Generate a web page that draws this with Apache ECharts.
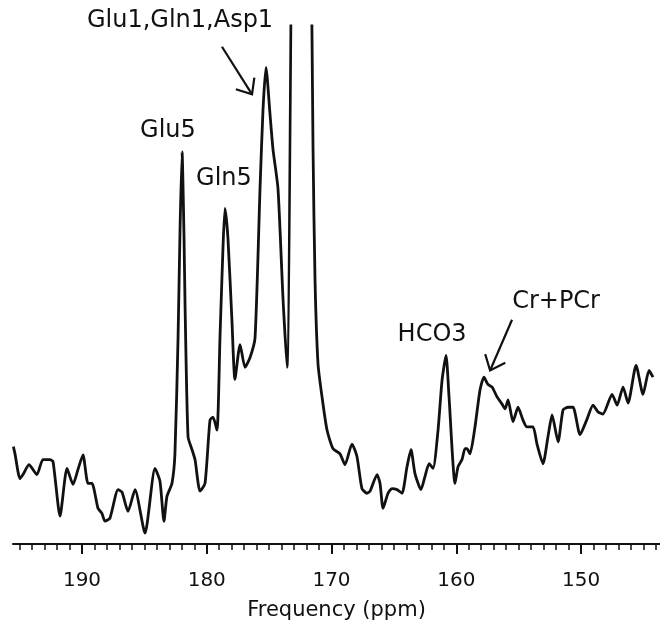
<!DOCTYPE html>
<html>
<head>
<meta charset="utf-8">
<style>
  html, body { margin: 0; padding: 0; background: #fff; }
  #chart { width: 660px; height: 626px; }
</style>
<script src="https://cdn.jsdelivr.net/npm/echarts@6/dist/echarts.min.js"></script>
</head>
<body>
<div id="chart"></div>
<script>
// chemical shift (ppm) and intensity (arbitrary units)
var ppm = [195.5, 195.37, 194.97, 194.73, 194.25, 193.61, 193.13, 192.57, 192.32, 191.76,
  191.2, 190.72, 190.32, 189.92, 189.52, 189.2, 188.72, 188.4, 188.16, 187.76,
  187.11, 186.79, 186.31, 185.75, 184.95, 184.15, 183.75, 183.43, 183.19, 182.79,
  182.55, 182.3, 182.14, 181.98, 181.82, 181.74, 181.5, 181.18, 180.94, 180.54,
  180.14, 179.74, 179.5, 179.18, 178.94, 178.7, 178.54, 178.3, 177.98, 177.74,
  177.33, 176.93, 176.53, 176.13, 175.73, 175.49, 175.25, 174.93, 174.69, 174.29,
  173.89, 173.57, 172.53, 171.48, 171.32, 171.08, 170.76, 170.36, 169.88, 169.32,
  168.92, 168.36, 167.96, 167.56, 167.15, 166.91, 166.35, 166.11, 165.87, 165.47,
  165.15, 164.75, 164.35, 163.95, 163.63, 163.31, 162.83, 162.51, 162.18, 161.86,
  161.46, 161.14, 160.82, 160.58, 160.1, 159.86, 159.54, 159.3, 159.14, 158.9,
  158.5, 158.1, 157.78, 157.46, 157.13, 156.73, 156.33, 156.09, 155.85, 155.45,
  155.05, 154.65, 154.33, 153.85, 153.53, 153.05, 152.65, 152.32, 151.84, 151.44,
  151.04, 150.64, 150.08, 149.52, 149.04, 148.64, 148.24, 147.51, 147.11, 146.63,
  146.23, 145.59, 145.03, 144.55, 144.23];

var intensity = [18.8, 17.4, 12.6, 13.4, 15.3, 13.4, 16.3, 16.3, 15.9, 5.4,
  14.6, 11.5, 14.4, 17.2, 11.7, 11.7, 6.9, 5.9, 4.4, 5.0,
  10.5, 10.0, 6.3, 10.5, 2.1, 14.6, 12.1, 4.4, 9.2, 11.7,
  17.4, 39.8, 60.9, 75.7, 59.0, 46.2, 20.7, 18.2, 16.3, 10.2,
  11.7, 23.9, 24.5, 22.0, 39.8, 57.1, 64.8, 59.0, 43.1, 31.8,
  38.5, 34.1, 36.0, 39.8, 68.6, 83.9, 92.0, 83.0, 76.2, 68.6,
  47.5, 34.1, 320, 76.2, 50.8, 34.7, 28.4, 22.0, 18.4, 17.4,
  15.3, 19.3, 16.9, 10.7, 9.8, 10.2, 13.4, 11.7, 6.9, 9.8,
  10.7, 10.5, 9.8, 14.9, 18.2, 13.6, 10.5, 13.0, 15.5, 14.6,
  22.0, 31.6, 36.4, 28.4, 11.7, 14.9, 16.3, 18.4, 18.4, 17.4,
  22.6, 29.7, 32.2, 30.8, 30.3, 28.4, 27.0, 26.1, 27.8, 23.6,
  26.4, 23.9, 22.6, 22.6, 19.3, 15.5, 20.7, 24.9, 19.7, 25.9,
  26.4, 26.4, 21.1, 24.1, 26.8, 25.5, 25.1, 28.9, 26.8, 30.3,
  27.2, 34.5, 28.9, 33.5, 32.2];

var majorTicks = [150, 160, 170, 180, 190];
var minorTicks = [];
for (var t = 144; t <= 195; t++) minorTicks.push(t);

// peak labels and arrows, anchored in data coordinates
var notes = [
  { text: 'Glu1,Gln1,Asp1', at: [182.14, 101.1] },
  { text: 'Glu5', at: [183.11, 79.7] },
  { text: 'Gln5', at: [178.62, 70.5] },
  { text: 'HCO3', at: [161.94, 40.4] },
  { text: 'Cr+PCr', at: [152.0, 46.7] }
];
var arrows = [
  { from: [178.78, 96.0], to: [176.37, 86.8] },
  { from: [155.53, 43.3], to: [157.29, 33.5] }
];

var FONT = '"DejaVu Sans", Verdana, sans-serif';
var chart = echarts.init(document.getElementById('chart'));

var points = ppm.map(function (p, i) { return [p, intensity[i]]; });

chart.setOption({
  animation: false,
  grid: { left: 13, right: 0, top: 26, bottom: 78 },
  xAxis: [{
    type: 'value',
    min: 143.67,
    max: 195.53,
    inverse: true,
    position: 'bottom',
    axisLine: { lineStyle: { color: '#111', width: 2 } },
    axisTick: { customValues: minorTicks, length: 6, lineStyle: { color: '#111', width: 1.5 } },
    axisLabel: { show: false },
    splitLine: { show: false }
  }, {
    type: 'value',
    min: 143.67,
    max: 195.53,
    inverse: true,
    position: 'bottom',
    axisLine: { show: false },
    axisTick: { customValues: majorTicks, length: 10, lineStyle: { color: '#111', width: 2 } },
    axisLabel: {
      customValues: majorTicks,
      margin: 27,
      color: '#111',
      fontSize: 20,
      fontFamily: FONT
    },
    splitLine: { show: false },
    name: 'Frequency (ppm)',
    nameLocation: 'middle',
    nameGap: 56,
    nameTextStyle: { color: '#111', fontSize: 21, fontFamily: FONT }
  }],
  yAxis: { type: 'value', min: 0, max: 100, show: false },
  series: [{
    type: 'line',
    data: points,
    xAxisIndex: 0,
    showSymbol: false,
    smooth: 0.2,
    clip: true,
    lineStyle: { color: '#111', width: 2.8 }
  }]
});

function px(pt) {
  return chart.convertToPixel({ xAxisIndex: 0, yAxisIndex: 0 }, pt);
}

var elements = [];
notes.forEach(function (n) {
  var p = px(n.at);
  elements.push({
    type: 'text',
    x: p[0],
    y: p[1],
    style: {
      text: n.text,
      fill: '#111',
      font: '24px ' + FONT,
      textAlign: 'center',
      textVerticalAlign: 'middle'
    }
  });
});
arrows.forEach(function (a) {
  var t = px(a.from), h = px(a.to);
  var ang = Math.atan2(t[1] - h[1], t[0] - h[0]);
  var spread = 40 * Math.PI / 180, len = 17;
  var a1 = [h[0] + len * Math.cos(ang - spread), h[1] + len * Math.sin(ang - spread)];
  var a2 = [h[0] + len * Math.cos(ang + spread), h[1] + len * Math.sin(ang + spread)];
  elements.push({
    type: 'line',
    shape: { x1: t[0], y1: t[1], x2: h[0], y2: h[1] },
    style: { stroke: '#111', lineWidth: 2.2 }
  });
  elements.push({
    type: 'polyline',
    shape: { points: [a1, h, a2] },
    style: { stroke: '#111', lineWidth: 2.2, fill: null }
  });
});
chart.setOption({ graphic: { elements: elements } });
</script>
</body>
</html>
